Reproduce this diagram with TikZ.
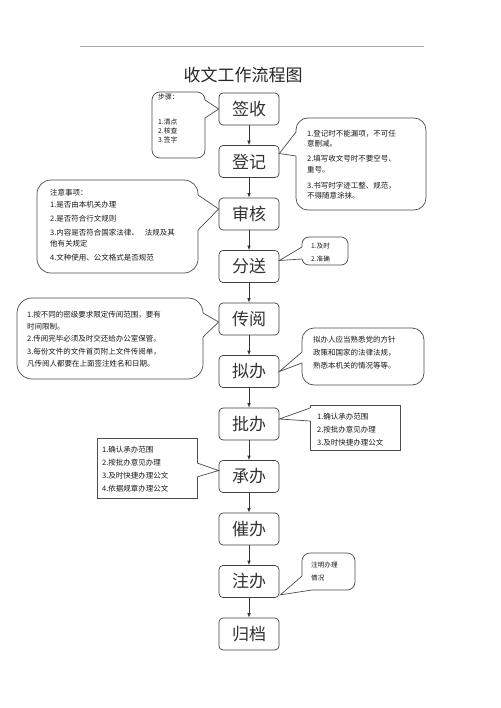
\documentclass[tikz,border=0pt]{standalone}
\usepackage{fontspec}
\setmainfont{Noto Sans CJK SC}
\usetikzlibrary{arrows.meta}
\begin{document}
\begin{tikzpicture}[x=1pt,y=-1pt,
  stepbox/.style={draw=black!75, line width=0.7pt, rounded corners=4pt, minimum width=60pt, minimum height=32pt, inner sep=0pt, font=\fontsize{17}{17}\selectfont, text=black!80},
  flow/.style={draw=black!80, line width=0.7pt, -{Latex[length=4.5pt,width=3.5pt]}},
  cbody/.style={draw=black!70, line width=0.7pt},
  ctext/.style={anchor=north west, inner sep=0pt, align=left, text=black!90},
  fa/.style={font=\fontsize{7.5}{10.5}\selectfont},
  fb/.style={font=\fontsize{6.8}{9}\selectfont},
  fc/.style={font=\fontsize{6.6}{13}\selectfont},
  fd/.style={font=\fontsize{7.5}{13}\selectfont}
]
\useasboundingbox (0,0) rectangle (500,708);
\fill[white] (0,0) rectangle (500,708);
% header rule
\draw[black!35, line width=0.6pt] (80,46) -- (424,46);
% title
\node[font=\fontsize{17}{17}\selectfont, text=black!85] (title) at (243,75) {收文工作流程图};
% main steps
\node[stepbox] (qs)  at (249,109)   {签收};
\node[stepbox] (dj)  at (249,161.5) {登记};
\node[stepbox] (sh)  at (249,214)   {审核};
\node[stepbox] (fs)  at (249,266.5) {分送};
\node[stepbox] (cy)  at (249,319)   {传阅};
\node[stepbox] (nb)  at (249,371.5) {拟办};
\node[stepbox] (pb)  at (249,424)   {批办};
\node[stepbox] (cb)  at (249,476.5) {承办};
\node[stepbox] (cui) at (249,529)   {催办};
\node[stepbox] (zb)  at (249,581.5) {注办};
\node[stepbox] (gd)  at (249,634)   {归档};
\draw[flow] (qs) -- (dj);
\draw[flow] (dj) -- (sh);
\draw[flow] (sh) -- (fs);
\draw[flow] (fs) -- (cy);
\draw[flow] (cy) -- (nb);
\draw[flow] (nb) -- (pb);
\draw[flow] (pb) -- (cb);
\draw[flow] (cb) -- (cui);
\draw[flow] (cui) -- (zb);
\draw[flow] (zb) -- (gd);
% callout 1: 步骤
\draw[cbody, rounded corners=8pt] (152,92) rectangle (205,158);
\fill[white] (204,100) rectangle (206,118);
\draw[cbody] (205,100) -- (qs.west) -- (205,118);
\node[ctext, fb] (t1) at (158,94) {步骤：\\[16pt]1.清点\\2.核查\\3.签字};
% callout 2: 登记
\draw[cbody, rounded corners=12pt] (296,118) rectangle (426,210);
\fill[white] (295,132) rectangle (297,156);
\draw[cbody] (296,132) -- ([yshift=8pt]dj.east) -- (296,156);
\node[ctext, fa] (t2) at (307,129.6) {1.登记时不能漏项，不可任\\意删减。\\[4.5pt]2.填写收文号时不要空号、\\重号。\\[5.5pt]3.书写时字迹工整、规范，\\不得随意涂抹。};
% callout 3: 审核
\draw[cbody, rounded corners=14pt] (37,180) rectangle (198,273);
\fill[white] (197,195) rectangle (199,230);
\draw[cbody] (198,195) -- ([yshift=5pt]sh.west) -- (198,230);
\node[ctext, font=\fontsize{7.5}{11}\selectfont] (t3) at (50,188.6) {注意事项：\\[1pt]1.是否由本机关办理\\[3pt]2.是否符合行文规则\\[3pt]3.内容是否符合国家法律、\hspace{6pt}法规及其\\他有关规定\\[3pt]4.文种使用、公文格式是否规范};
% callout 4: 分送
\draw[cbody, rounded corners=7pt] (302,237) rectangle (348,265);
\fill[white] (301,247) rectangle (303,259);
\draw[cbody] (302,247) -- ([yshift=6pt]fs.east) -- (302,259);
\node[ctext, fc] (t4) at (311,243) {1.及时\\2.准确};
% callout 5: 传阅
\draw[cbody, rounded corners=15pt] (17,298) rectangle (203,379);
\fill[white] (202,313) rectangle (204,337);
\draw[cbody] (203,313) -- ([yshift=-3pt]cy.west) -- (203,337);
\node[ctext, font=\fontsize{7.5}{12.3}\selectfont] (t5) at (27,310.6) {1.按不同的密级要求限定传阅范围，要有\\时间限制。\\2.传阅完毕必须及时交还给办公室保管。\\3.每份文件的文件首页附上文件传阅单，\\凡传阅人都要在上面签注姓名和日期。};
% callout 6: 拟办
\draw[cbody, rounded corners=12pt] (302,328) rectangle (424,385);
\fill[white] (301,352) rectangle (303,363);
\draw[cbody] (302,352) -- (nb.east) -- (302,363);
\node[ctext, fd] (t6) at (313,335.6) {拟办人应当熟悉党的方针\\政策和国家的法律法规，\\熟悉本机关的情况等等。};
% callout 7: 批办
\draw[cbody] (310,405) rectangle (400,450);
\fill[white] (309,408) rectangle (311,421);
\draw[cbody] (310,408) -- ([yshift=5pt]pb.east) -- (310,421);
\node[ctext, fd] (t7) at (317,412.6) {1.确认承办范围\\2.按批办意见办理\\3.及时快捷办理公文};
% callout 8: 承办
\draw[cbody] (97,438) rectangle (197,498);
\fill[white] (196,463) rectangle (198,477);
\draw[cbody] (197,463) -- ([yshift=6pt]cb.west) -- (197,477);
\node[ctext, fd] (t8) at (102,445.6) {1.确认承办范围\\2.按批办意见办理\\3.及时快捷办理公文\\4.依据规章办理公文};
% callout 9: 注办
\draw[cbody, rounded corners=8pt] (302,553) rectangle (355,590);
\fill[white] (300.5,576) rectangle (312,591.5);
\draw[cbody] (302,576) -- ([xshift=1pt,yshift=3pt]zb.south east) -- (312,590);
\node[ctext, fc] (t9) at (311,562) {注明办理\\情况};
\end{tikzpicture}
\end{document}
